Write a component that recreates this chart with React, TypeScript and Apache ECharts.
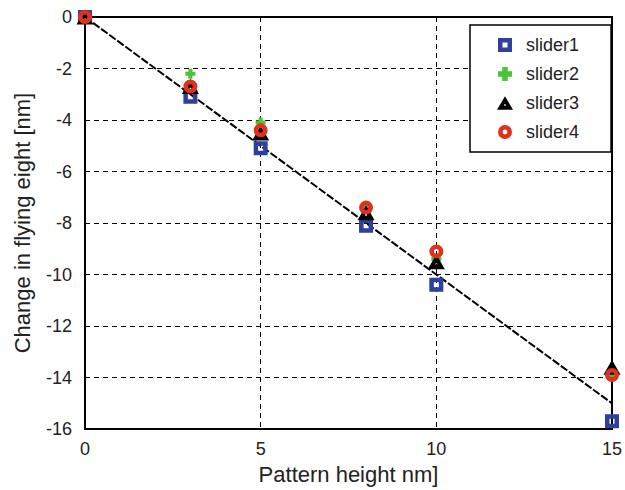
import React, { useEffect, useRef } from "react";
import * as echarts from "echarts";

const patternHeights = [0, 3, 5, 8, 10, 15];
const slider1 = [0, -3.1, -5.1, -8.1, -10.4, -15.7];
const slider2 = [0, -2.2, -4.1, -7.4, -9.4, -13.8];
const slider3 = [0, -2.7, -4.5, -7.6, -9.5, -13.6];
const slider4 = [0, -2.7, -4.4, -7.4, -9.1, -13.9];
const trendX = [0, 15];
const trendY = [0, -15];

const squarePath = "path://M0,0L14,0L14,14L0,14Z M4.5,4.5L4.5,9.5L9.5,9.5L9.5,4.5Z";
const plusPath = "path://M3,0L7,0L7,3L10,3L10,7L7,7L7,10L3,10L3,7L0,7L0,3L3,3Z";
const triPath = "path://M10,0L20,17L0,17Z M9,10L9,12L11,12L11,10Z";
const ringPath = "path://M0,7A7,7 0 1,0 14,7A7,7 0 1,0 0,7Z M4.6,7A2.4,2.4 0 1,1 9.4,7A2.4,2.4 0 1,1 4.6,7Z";

export default function App() {
  const ref = useRef<HTMLDivElement>(null);
  useEffect(() => {
    if (!ref.current) return;
    const chart = echarts.init(ref.current, undefined, { renderer: "svg" });
    const pts = (ys: number[]) => patternHeights.map((x, i) => [x, ys[i]]);
    const font = "Liberation Sans";
    chart.setOption({
      animation: false,
      textStyle: { fontFamily: font },
      grid: {
        left: 85, right: 8, top: 17, bottom: 56,
        show: true, borderColor: "#000", borderWidth: 2, backgroundColor: "transparent",
      },
      legend: {
        data: [
          { name: "slider1", icon: squarePath },
          { name: "slider2", icon: plusPath },
          { name: "slider3", icon: triPath },
          { name: "slider4", icon: ringPath },
        ],
        orient: "vertical",
        left: 470, top: 25,
        itemGap: 11,
        itemWidth: 16, itemHeight: 14,
        padding: [11, 32, 11, 27],
        borderColor: "#000", borderWidth: 1.5, backgroundColor: "#fff",
        textStyle: { fontSize: 18, color: "#222", fontFamily: font, padding: [0, 0, 0, 8] },
      },
      xAxis: {
        type: "value", min: 0, max: 15, interval: 5,
        name: "Pattern height nm]", nameLocation: "middle", nameGap: 32,
        nameTextStyle: { fontSize: 22, color: "#222", fontFamily: font },
        axisLine: { lineStyle: { color: "#000", width: 2 } },
        axisTick: { show: false },
        axisLabel: { fontSize: 18, color: "#222", margin: 11, fontFamily: font },
        splitLine: { show: true, lineStyle: { color: "#000", type: [5, 4], width: 1 } },
      },
      yAxis: {
        type: "value", min: -16, max: 0, interval: 2,
        name: "Change in flying eight [nm]", nameLocation: "middle", nameGap: 52,
        nameTextStyle: { fontSize: 22, color: "#222", fontFamily: font },
        axisLine: { show: true, onZero: false, lineStyle: { color: "#000", width: 2 } },
        axisTick: { show: false },
        axisLabel: { fontSize: 18, color: "#222", margin: 13, fontFamily: font },
        splitLine: { show: true, lineStyle: { color: "#000", type: [5, 4], width: 1 } },
      },
      series: [
        {
          name: "trend", type: "line", data: trendX.map((x, i) => [x, trendY[i]]),
          showSymbol: false, symbol: "none", silent: true,
          lineStyle: { color: "#000", width: 2, type: [8, 2] }, z: 1,
        },
        {
          name: "slider1", type: "scatter", data: pts(slider1), symbol: squarePath, symbolSize: 14,
          itemStyle: { color: "#2e3f9c", opacity: 1 }, clip: false, z: 2,
        },
        {
          name: "slider2", type: "scatter", data: pts(slider2), symbol: plusPath, symbolSize: 10,
          itemStyle: { color: "#4cc43a", opacity: 1 }, clip: false, z: 3,
        },
        {
          name: "slider3", type: "scatter", data: pts(slider3), symbol: triPath, symbolSize: [17, 15],
          itemStyle: { color: "#000", opacity: 1 }, clip: false, z: 4,
        },
        {
          name: "slider4", type: "scatter", data: pts(slider4), symbol: ringPath, symbolSize: 14,
          itemStyle: { color: "#e0301e", opacity: 1 }, clip: false, z: 5,
        },
      ],
    });
    return () => chart.dispose();
  }, []);
  return <div ref={ref} style={{ width: 625, height: 490, position: "absolute", left: 0, top: 0 }} />;
}
